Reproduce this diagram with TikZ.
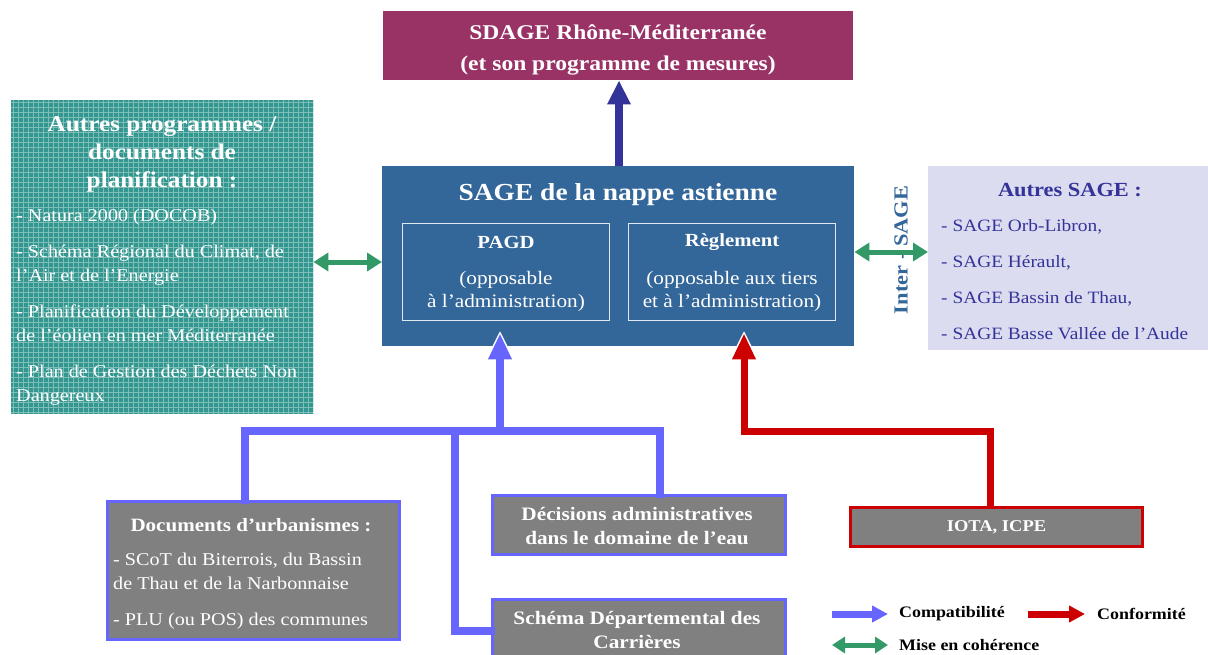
\documentclass[tikz,border=0pt]{standalone}
\usepackage{fontspec}
\setmainfont[FakeStretch=1.12]{Liberation Serif}
\usetikzlibrary{arrows.meta,positioning}

\definecolor{sdagecol}{RGB}{153,51,102}
\definecolor{sagecol}{RGB}{51,102,153}
\definecolor{tealcol}{RGB}{51,150,145}
\definecolor{tealgrid}{RGB}{125,190,182}
\definecolor{lavcol}{RGB}{220,220,240}
\definecolor{navycol}{RGB}{51,51,153}
\definecolor{compatcol}{RGB}{102,102,255}
\definecolor{conformcol}{RGB}{204,0,0}
\definecolor{cohercol}{RGB}{51,153,102}
\definecolor{graycol}{RGB}{128,128,128}

\tikzset{
  box/.style={rectangle, inner sep=0pt, anchor=north west},
  graybox/.style={box, fill=graycol, draw=compatcol, line width=3pt},
  subbox/.style={box, draw=white!85!sagecol, line width=1pt},
  whitetxt/.style={text=white, inner sep=0pt, align=center},
  compatline/.style={compatcol, line width=8pt, line cap=rect},
  headrim/.style={white, line width=12pt, shorten >=-16pt,
    -{Triangle[width=30pt,length=33pt]}},
  compatarrow/.style={compatcol, line width=8pt, shorten >=-13pt,
    -{Triangle[width=22pt,length=26pt]}},
  conformarrow/.style={conformcol, line width=7pt, shorten >=-13pt,
    -{Triangle[width=22pt,length=26pt]}},
  coherarrow/.style={cohercol, line width=5pt,
    {Triangle[width=18pt,length=15pt]}-{Triangle[width=18pt,length=15pt]}},
  gridline/.style={tealgrid, line width=0.9pt},
  legtxt/.style={anchor=west, inner sep=0pt, font=\bfseries\fontsize{16}{18}\selectfont}
}

\begin{document}
\begin{tikzpicture}[x=1pt,y=-1pt]
  \useasboundingbox (0,0) rectangle (1208,654);

  % boxes
  \node[box, fill=sdagecol, minimum width=470pt, minimum height=69pt] (sdage) at (383,11) {};
  \node[whitetxt, font=\bfseries\fontsize{21}{31}\selectfont] at (618,50)
    {SDAGE Rhône-Méditerranée\\(et son programme de mesures)};

  \node[box, fill=sagecol, minimum width=472pt, minimum height=180pt] (sage) at (382,166) {};
  \node[whitetxt, font=\bfseries\fontsize{24.5}{28}\selectfont] at (618,195) {SAGE de la nappe astienne};
  \node[subbox, minimum width=207pt, minimum height=97pt] (pagd) at (402,223) {};
  \node[subbox, minimum width=207pt, minimum height=97pt] (regl) at (628,223) {};
  \node[whitetxt, font=\bfseries\fontsize{18.5}{20}\selectfont] at (pagd.north |- 0,242) {PAGD};
  \node[whitetxt, font=\fontsize{19}{23}\selectfont] at (pagd.north |- 0,291) {(opposable\\à l’administration)};
  \node[whitetxt, font=\bfseries\fontsize{18.5}{20}\selectfont] at (regl.north |- 0,242) {Règlement};
  \node[whitetxt, font=\fontsize{19}{23}\selectfont] at (regl.north |- 0,291) {(opposable aux tiers\\et à l’administration)};

  % autres programmes, with its grid pattern
  \node[box, fill=tealcol, minimum width=302pt, minimum height=314pt] (autres) at (11,100) {};
  \begin{scope}
    \clip (autres.north west) rectangle (autres.south east);
    \foreach \g in {2,7,...,314} {
      \draw[gridline] (11+\g,100) -- ++(0,314);
      \draw[gridline] (11,100+\g) -- ++(302,0);
    }
  \end{scope}
  \node[whitetxt, font=\bfseries\fontsize{22.5}{28}\selectfont] at (162,154)
    {Autres programmes /\\documents de\\planification :};
  \node[whitetxt, anchor=north west, align=left, font=\fontsize{18}{24}\selectfont] at (16,209)
    {- Natura 2000 (DOCOB)\\[12pt]
     - Schéma Régional du Climat, de\\l’Air et de l’Energie\\[12pt]
     - Planification du Développement\\de l’éolien en mer Méditerranée\\[12pt]
     - Plan de Gestion des Déchets Non\\Dangereux};

  % autres SAGE
  \node[box, fill=lavcol, minimum width=280pt, minimum height=184pt] (other) at (928,166) {};
  \node[inner sep=0pt, text=navycol, font=\bfseries\fontsize{20}{24}\selectfont] at (1070,190) {Autres SAGE :};
  \node[inner sep=0pt, anchor=north west, align=left, text=navycol, font=\fontsize{17.3}{36}\selectfont] at (941,219)
    {- SAGE Orb-Libron,\\- SAGE Hérault,\\- SAGE Bassin de Thau,\\- SAGE Basse Vallée de l’Aude};

  % bottom boxes
  \node[graybox, minimum width=292pt, minimum height=138pt] (docs) at (106,500) {};
  \node[whitetxt, font=\bfseries\fontsize{18.8}{20}\selectfont] at (251,525) {Documents d’urbanismes :};
  \node[whitetxt, anchor=north west, align=left, font=\fontsize{18}{24}\selectfont] at (113,553)
    {- SCoT du Biterrois, du Bassin\\de Thau et de la Narbonnaise\\[12pt]- PLU (ou POS) des communes};
  \node[graybox, minimum width=293pt, minimum height=59pt] (decis) at (491,494) {};
  \node[whitetxt, font=\bfseries\fontsize{19}{24}\selectfont] at (637,526)
    {Décisions administratives\\dans le domaine de l’eau};
  \node[graybox, minimum width=293pt, minimum height=62pt] (carr) at (491,598) {};
  \node[whitetxt, font=\bfseries\fontsize{19}{24}\selectfont] at (637,630)
    {Schéma Départemental des\\Carrières};
  \node[graybox, draw=conformcol, minimum width=292pt, minimum height=39pt] (iota) at (849,506) {};
  \node[whitetxt, font=\bfseries\fontsize{16.5}{20}\selectfont] at (iota.center) {IOTA, ICPE};

  % connectors
  \draw[navycol, line width=8pt, -{Triangle[width=22pt,length=24pt]}] (sage.north -| 619,0) -- (sdage.south -| 619,0);
  \coordinate (hubl) at (245,431);
  \coordinate (hubm) at (455,431);
  \coordinate (hubc) at (500,431);
  \coordinate (hubr) at (660,431);
  \coordinate (redj) at (744,431);
  \coordinate (cbase) at (500,395);
  \coordinate (rbase) at (744,395);
  \draw[headrim] (cbase) -- (hubc |- sage.south);
  \draw[headrim] (rbase) -- (redj |- sage.south);
  \draw[compatline] (hubl |- docs.north) -- (hubl) -- (hubr) -- (hubr |- decis.north);
  \draw[compatline] (hubm) -- (hubm |- carr.west) -- (carr.west);
  \draw[compatarrow] (hubc) -- (hubc |- sage.south);
  \draw[conformarrow] (iota.north -| 990,0) |- (redj) -- (redj |- sage.south);
  \draw[coherarrow] (autres.east |- 0,262) -- (sage.west |- 0,262);
  \node[rotate=90, inner sep=0pt, text=sagecol, font=\bfseries\fontsize{20}{24}\selectfont] (inter) at (901,250) {Inter - SAGE};
  \draw[coherarrow] (sage.east |- 0,252) -- (other.west |- 0,252);

  % legend
  \node[legtxt] (lcompat) at (899,614) {Compatibilité};
  \node[legtxt] (lconf) at (1097,614) {Conformité};
  \node[legtxt] (lcoher) at (899,645) {Mise en cohérence};
  \coordinate (lc) at (832,614);
  \coordinate (lr) at (1028,614);
  \coordinate (lg) at (832,645);
  \draw[compatcol, line width=7pt, shorten >=11pt, -{Triangle[width=16pt,length=16pt]}] (lc) -- (lcompat.west);
  \draw[conformcol, line width=7pt, shorten >=12pt, -{Triangle[width=16pt,length=16pt]}] (lr) -- (lconf.west);
  \draw[cohercol, line width=5pt, shorten >=11pt, {Triangle[width=16pt,length=13pt]}-{Triangle[width=16pt,length=13pt]}] (lg) -- (lcoher.west);
\end{tikzpicture}
\end{document}
